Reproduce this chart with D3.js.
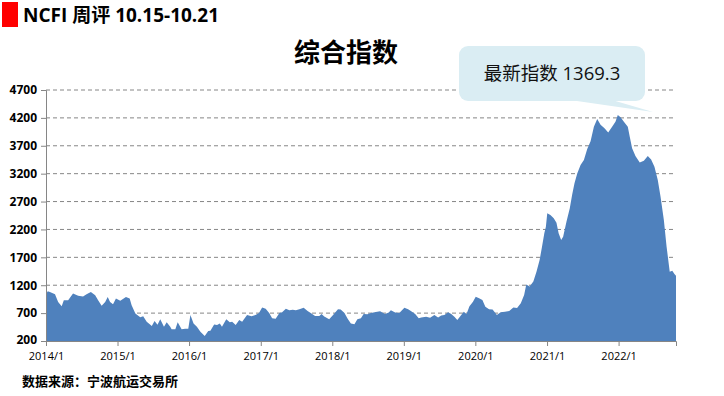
<!DOCTYPE html>
<html>
<head>
<meta charset="utf-8">
<script src="https://cdn.jsdelivr.net/npm/d3@7"></script>
<style>
  html, body { margin: 0; padding: 0; background: #fff; }
  svg { display: block; font-family: "Open Sans", "Noto Sans CJK SC", sans-serif; }
</style>
</head>
<body>
<svg id="chart" width="724" height="396"></svg>
<script>
// weekly-ish readings of the NCFI composite index
const dates = [
  "2014-01-03","2014-01-10","2014-01-21","2014-02-16","2014-03-04","2014-03-22","2014-04-02","2014-04-24",
  "2014-05-19","2014-06-14","2014-07-09","2014-07-27","2014-08-18","2014-09-09","2014-09-24","2014-10-12",
  "2014-10-30","2014-11-12","2014-11-24","2014-12-09","2014-12-24",
  "2015-01-15","2015-02-13","2015-03-04","2015-03-14","2015-04-02","2015-04-27","2015-05-12","2015-05-30",
  "2015-06-25","2015-07-09","2015-07-24","2015-08-07","2015-08-26","2015-09-09","2015-09-27","2015-10-04",
  "2015-10-23","2015-11-04","2015-11-17","2015-11-24","2015-12-12","2015-12-28",
  "2016-01-08","2016-01-24","2016-02-10","2016-02-28","2016-03-21","2016-04-08","2016-04-19","2016-05-08",
  "2016-05-23","2016-06-06","2016-06-17","2016-07-09","2016-07-27","2016-08-08","2016-08-26","2016-09-13",
  "2016-09-28","2016-10-23","2016-11-15","2016-12-05","2016-12-23",
  "2017-01-08","2017-01-26","2017-02-13","2017-02-28","2017-03-18","2017-04-06","2017-04-20","2017-05-09",
  "2017-05-27","2017-06-13","2017-06-29","2017-07-17","2017-08-08","2017-08-28","2017-09-13","2017-10-05",
  "2017-10-27","2017-11-07","2017-11-21","2017-12-16",
  "2018-01-05","2018-01-30","2018-02-13","2018-03-04","2018-03-22","2018-04-06","2018-04-24","2018-05-09",
  "2018-05-27","2018-06-10","2018-06-29","2018-07-17","2018-08-11","2018-09-02","2018-09-27","2018-10-16",
  "2018-10-27","2018-11-18","2018-12-09",
  "2019-01-04","2019-01-23","2019-02-06","2019-02-28","2019-03-18","2019-03-31","2019-04-25","2019-05-15",
  "2019-06-06","2019-06-25","2019-07-11","2019-07-27","2019-08-15","2019-08-31","2019-09-16","2019-10-01",
  "2019-10-16","2019-11-03","2019-11-17","2019-12-02","2019-12-20",
  "2020-01-03","2020-01-20","2020-02-06","2020-02-21","2020-03-11","2020-03-29","2020-04-20","2020-05-09",
  "2020-05-31","2020-06-22","2020-07-13","2020-08-01","2020-08-20","2020-09-06","2020-09-17","2020-10-04",
  "2020-10-23","2020-11-08","2020-11-24","2020-12-06","2020-12-18","2020-12-26",
  "2021-01-02","2021-01-18","2021-02-04","2021-02-18","2021-03-01","2021-03-14","2021-03-24","2021-04-10",
  "2021-04-27","2021-05-09","2021-05-21","2021-06-04","2021-06-21","2021-07-08","2021-07-25","2021-08-11",
  "2021-08-28","2021-09-14","2021-10-01","2021-10-21","2021-11-09","2021-11-29","2021-12-16","2021-12-28",
  "2022-01-11","2022-01-28","2022-02-17","2022-02-27","2022-03-11","2022-03-28","2022-04-19","2022-05-10",
  "2022-05-30","2022-06-16","2022-07-03","2022-07-20","2022-08-03","2022-08-20","2022-09-03","2022-09-19",
  "2022-10-02","2022-10-13","2022-10-21"
];
const values = [
  1050,1090,1080,1040,900,825,930,930,
  1050,1010,1000,1040,1080,1020,930,830,
  900,990,900,860,960,
  920,990,960,840,695,625,645,545,
  468,560,490,590,455,535,455,410,
  410,535,455,410,420,420,
  665,515,455,365,290,380,385,495,
  485,515,455,590,535,545,485,575,
  545,665,645,665,700,
  800,780,700,610,600,700,715,780,
  750,760,750,770,795,740,700,650,
  650,685,640,590,
  665,770,765,700,590,515,500,590,
  610,685,680,700,720,735,685,710,
  750,710,700,
  795,770,740,685,610,620,635,615,
  665,620,655,665,715,685,635,575,
  645,725,685,825,905,
  995,965,935,815,770,765,665,715,
  725,740,800,790,875,1025,1215,1175,
  1265,1440,1650,1885,2130,2250,
  2490,2460,2400,2320,2130,2010,2070,2340,
  2580,2820,3030,3205,3355,3445,3640,3780,
  4040,4180,4075,4015,3940,4040,4130,4250,
  4210,4130,4040,3860,3655,3515,3400,3430,
  3515,3455,3325,3085,2790,2370,1890,1440,
  1460,1400,1369.3
];
const yTicks = [200, 700, 1200, 1700, 2200, 2700, 3200, 3700, 4200, 4700];
const xTickYears = [2014, 2015, 2016, 2017, 2018, 2019, 2020, 2021, 2022];
const latestLabel = "最新指数 1369.3";

const parse = d3.timeParse("%Y-%m-%d");
const data = dates.map((d, i) => ({ date: parse(d), value: values[i] }));

const svg = d3.select("#chart");

const x = d3.scaleTime()
  .domain([new Date(2014, 0, 1), parse("2022-10-21")])
  .range([46, 676]);
const y = d3.scaleLinear()
  .domain([200, 4700])
  .range([341, 90]);

// header
svg.append("rect")
  .attr("x", 2).attr("y", 2)
  .attr("width", 16).attr("height", 25)
  .attr("fill", "#ff0000");
svg.append("text")
  .attr("x", 23).attr("y", 22)
  .attr("font-size", 19)
  .attr("font-weight", "bold")
  .text("NCFI 周评 10.15-10.21");

svg.append("text")
  .attr("x", 346).attr("y", 62)
  .attr("text-anchor", "middle")
  .attr("font-size", 26)
  .attr("font-weight", "bold")
  .text("综合指数");

// grid lines
svg.append("g")
  .selectAll("line")
  .data(yTicks.filter(d => d > 200))
  .enter()
  .append("line")
  .attr("x1", 46).attr("x2", 676)
  .attr("y1", d => y(d)).attr("y2", d => y(d))
  .attr("stroke", "#868686")
  .attr("stroke-dasharray", "4,3");

// area
const area = d3.area()
  .x(d => x(d.date))
  .y0(y(200))
  .y1(d => y(d.value));

svg.append("path")
  .datum(data)
  .attr("d", area)
  .attr("fill", "#4f81bd");

// y axis
const yAxis = svg.append("g")
  .attr("transform", "translate(46,0)")
  .call(d3.axisLeft(y).tickValues(yTicks).tickFormat(d3.format("d")).tickSize(5).tickPadding(4));
yAxis.selectAll("text")
  .attr("font-size", 12)
  .attr("font-weight", "bold")
  .attr("fill", "#000")
  .style("font-family", "'Open Sans', sans-serif");
yAxis.selectAll(".tick").filter(d => d === 200).select("text").attr("dy", "0.2em");

// x axis
const xAxis = svg.append("g")
  .attr("transform", `translate(0,${y(200)})`)
  .call(d3.axisBottom(x)
    .tickValues(xTickYears.map(yr => new Date(yr, 0, 1)))
    .tickFormat(d => d.getFullYear() + "/1")
    .tickSize(5).tickPadding(6));
xAxis.selectAll("text")
  .attr("font-size", 11)
  .attr("fill", "#000")
  .style("font-family", "'Open Sans', sans-serif");

svg.selectAll(".domain, .tick line").attr("stroke", "#868686");

// callout bubble
const bubble = svg.append("g");
bubble.append("path")
  .attr("d", "M570,100 L653,112 L612,100 Z")
  .attr("fill", "#daedf3");
bubble.append("rect")
  .attr("x", 459).attr("y", 46)
  .attr("width", 186).attr("height", 55)
  .attr("rx", 9)
  .attr("fill", "#daedf3");
bubble.append("text")
  .attr("x", 552).attr("y", 80)
  .attr("text-anchor", "middle")
  .attr("font-size", 18.5)
  .attr("fill", "#111")
  .text(latestLabel);

// source note
svg.append("text")
  .attr("x", 22).attr("y", 386)
  .attr("font-size", 13)
  .attr("font-weight", "bold")
  .text("数据来源：宁波航运交易所");
</script>
</body>
</html>
